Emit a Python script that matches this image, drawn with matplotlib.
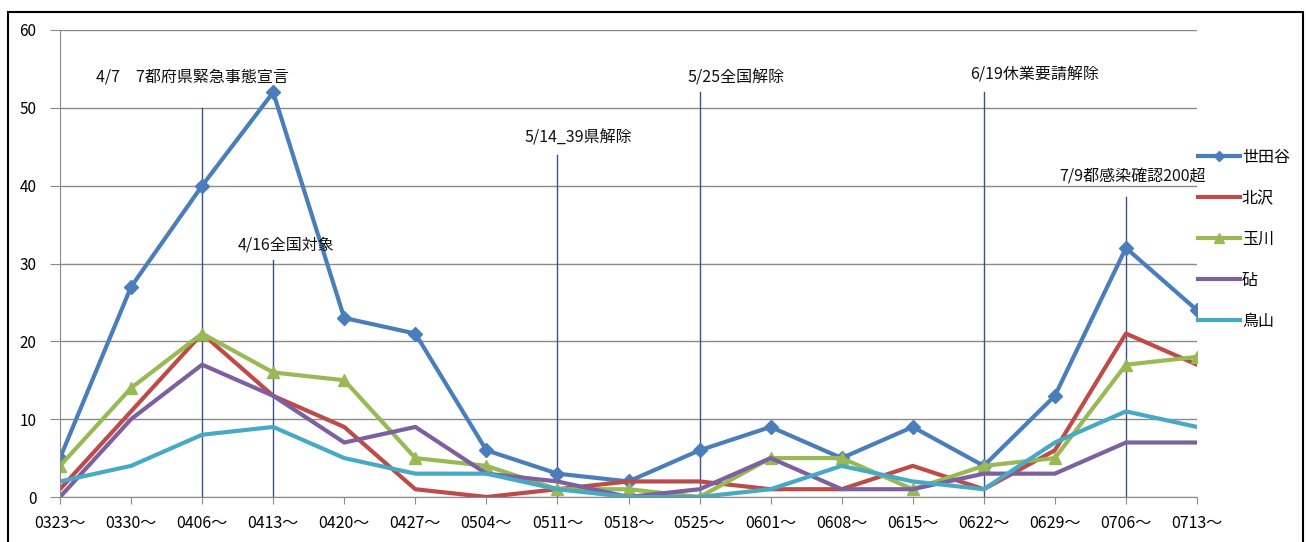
import matplotlib.pyplot as plt
from matplotlib.patches import Rectangle

plt.rcParams['font.family'] = ['Noto Sans CJK JP', 'DejaVu Sans']

weeks = ['0323～', '0330～', '0406～', '0413～', '0420～', '0427～', '0504～', '0511～', '0518～',
         '0525～', '0601～', '0608～', '0615～', '0622～', '0629～', '0706～', '0713～']

setagaya = [5, 27, 40, 52, 23, 21, 6, 3, 2, 6, 9, 5, 9, 4, 13, 32, 24]
kitazawa = [1, 11, 21, 13, 9, 1, 0, 1, 2, 2, 1, 1, 4, 1, 6, 21, 17]
tamagawa = [4, 14, 21, 16, 15, 5, 4, 1, 1, 0, 5, 5, 1, 4, 5, 17, 18]
kinuta = [0, 10, 17, 13, 7, 9, 3, 2, 0, 1, 5, 1, 1, 3, 3, 7, 7]
karasuyama = [2, 4, 8, 9, 5, 3, 3, 1, 0, 0, 1, 4, 2, 1, 7, 11, 9]

# event markers: week index, top of the line, label
events_at = [2, 3, 7, 9, 13, 15]
events_top = [50, 30.5, 44, 52, 52, 38.5]
events_text = ['4/7　7都府県緊急事態宣言', '4/16全国対象', '5/14_39県解除',
               '5/25全国解除', '6/19休業要請解除', '7/9都感染確認200超']
events_label_x = [1.86, 3.18, 7.30, 9.51, 13.71, 15.09]
events_label_y = [54.0, 32.4, 46.1, 53.8, 54.2, 41.1]

fig = plt.figure(figsize=(13.06, 5.42), dpi=100)
ax = fig.add_axes([60 / 1306, 45 / 542, 1137 / 1306, 467 / 542])

x = range(len(weeks))
ax.plot(x, setagaya, color='#4a7ebb', lw=3, marker='D', ms=7, label='世田谷')
ax.plot(x, kitazawa, color='#be4b48', lw=3, label='北沢')
ax.plot(x, tamagawa, color='#98b954', lw=3, marker='^', ms=9, label='玉川')
ax.plot(x, kinuta, color='#7d60a0', lw=3, label='砧')
ax.plot(x, karasuyama, color='#46aac5', lw=3, label='鳥山')

for xi, top, txt, lx, ly in zip(events_at, events_top, events_text, events_label_x, events_label_y):
    ax.plot([xi, xi], [0, top], color='#3f5287', lw=1, zorder=1)
    ax.text(lx, ly, txt, ha='center', va='center', fontsize=11.5, color='#111111')

ax.set_xlim(0, 16)
ax.set_ylim(0, 60)
ax.set_yticks(range(0, 61, 10))
ax.set_xticks(list(x))
ax.set_xticklabels(weeks)
ax.yaxis.grid(True, color='#8a8a8a', lw=1)
ax.set_axisbelow(True)
for s in ['top', 'right']:
    ax.spines[s].set_visible(False)
for s in ['left', 'bottom']:
    ax.spines[s].set_color('#8a8a8a')
ax.tick_params(axis='x', length=5, color='#8a8a8a', labelsize=11.5, pad=8)
ax.tick_params(axis='y', length=7, color='#8a8a8a', labelsize=11, pad=10)

ax.legend(loc='upper left', bbox_to_anchor=(1198 / 1306, 1 - 149 / 542),
          bbox_transform=fig.transFigure, frameon=False, fontsize=11.5,
          handlelength=2.6, handletextpad=0.15, labelspacing=1.5, borderpad=0,
          borderaxespad=0, markerscale=0.8)

fig.patches.append(Rectangle((8 / 1306, -0.05), 1295 / 1306, 1.05 - 12 / 542,
                             transform=fig.transFigure, fill=False, ec='black', lw=1.5))

fig.savefig('out.png', dpi=100)
